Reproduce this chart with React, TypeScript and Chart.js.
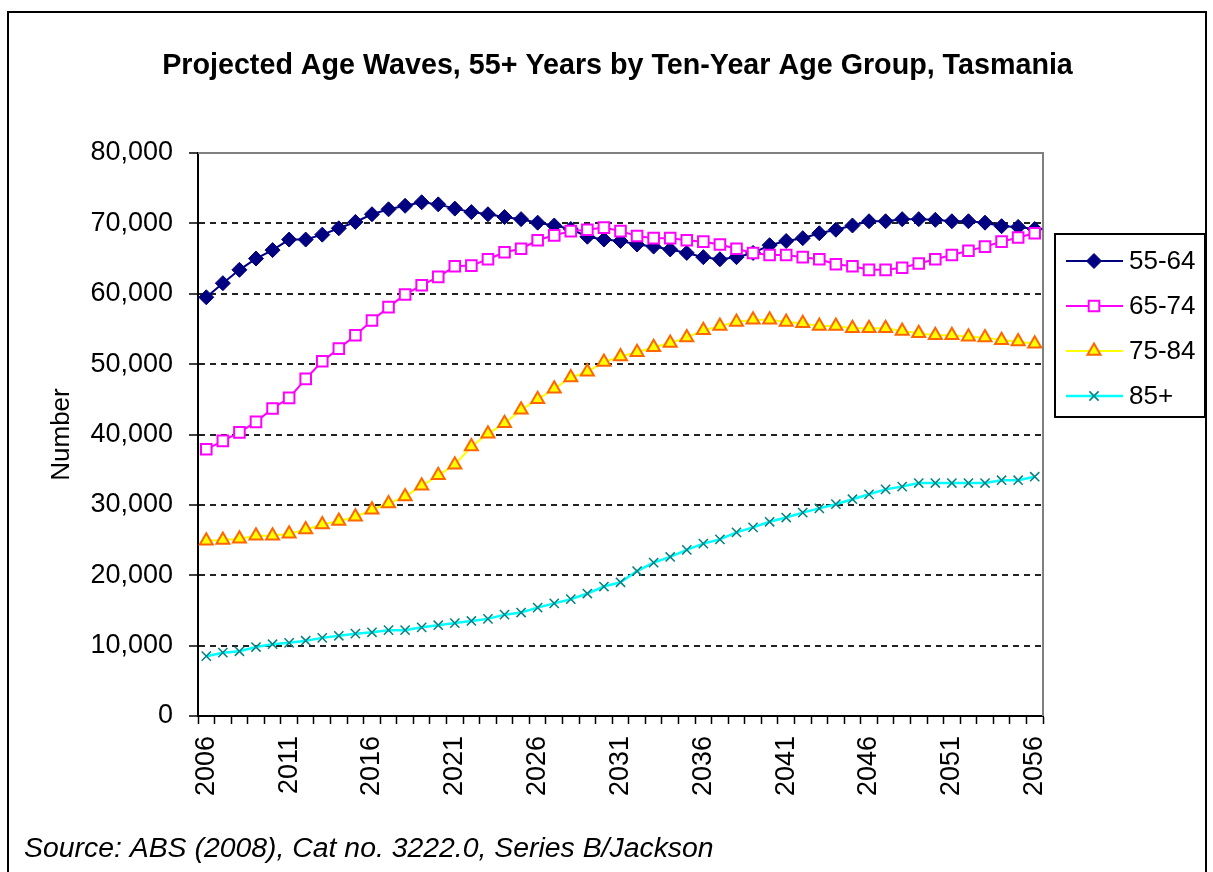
import React, { useEffect, useRef } from 'react';
import { Chart, registerables } from 'chart.js';
import { drawPoint } from 'chart.js/helpers';

Chart.register(...registerables);

const FONT = '"Liberation Sans", Arial, sans-serif';

const titleText = 'Projected Age Waves, 55+ Years by Ten-Year Age Group, Tasmania';
const yAxisTitle = 'Number';
const sourceText = 'Source: ABS (2008), Cat no. 3222.0, Series B/Jackson';

const years = [
  '2006', '2007', '2008', '2009', '2010', '2011', '2012', '2013', '2014', '2015',
  '2016', '2017', '2018', '2019', '2020', '2021', '2022', '2023', '2024', '2025',
  '2026', '2027', '2028', '2029', '2030', '2031', '2032', '2033', '2034', '2035',
  '2036', '2037', '2038', '2039', '2040', '2041', '2042', '2043', '2044', '2045',
  '2046', '2047', '2048', '2049', '2050', '2051', '2052', '2053', '2054', '2055',
  '2056',
];

const seriesNames = ['55-64', '65-74', '75-84', '85+'];

const age55to64 = [
  59500, 61500, 63400, 65000, 66200, 67700, 67700, 68400, 69300, 70200,
  71300, 72000, 72500, 73000, 72700, 72100, 71600, 71300, 70900, 70600,
  70100, 69700, 69200, 68100, 67700, 67500, 67000, 66700, 66300, 65800,
  65200, 64900, 65200, 65800, 66900, 67500, 67900, 68600, 69100, 69700,
  70300, 70300, 70600, 70600, 70500, 70300, 70300, 70100, 69600, 69500,
  69200,
];

const age65to74 = [
  37900, 39100, 40300, 41800, 43700, 45200, 47900, 50400, 52200, 54100,
  56200, 58100, 59900, 61200, 62400, 63900, 64000, 64900, 65900, 66400,
  67600, 68300, 68900, 69100, 69400, 68900, 68200, 67900, 67900, 67600,
  67400, 67000, 66400, 65800, 65500, 65500, 65200, 64900, 64200, 63900,
  63400, 63400, 63700, 64300, 64900, 65500, 66100, 66700, 67400, 68000,
  68600,
];

const age75to84 = [
  24900, 25000, 25200, 25600, 25600, 25900, 26500, 27200, 27700, 28300,
  29300, 30200, 31200, 32700, 34200, 35700, 38300, 40100, 41600, 43500,
  45000, 46500, 48100, 48900, 50300, 51100, 51700, 52400, 53000, 53800,
  54800, 55400, 56000, 56300, 56300, 56000, 55800, 55400, 55400, 55100,
  55100, 55100, 54700, 54400, 54100, 54100, 53900, 53800, 53400, 53200,
  52900,
];

const age85plus = [
  8500, 9000, 9200, 9800, 10200, 10400, 10700, 11100, 11400, 11700,
  11900, 12200, 12200, 12600, 12900, 13200, 13500, 13800, 14400, 14700,
  15400, 16000, 16600, 17400, 18400, 19000, 20600, 21800, 22600, 23600,
  24500, 25100, 26100, 26800, 27600, 28200, 28900, 29500, 30100, 30800,
  31500, 32200, 32600, 33100, 33100, 33100, 33100, 33100, 33500, 33500,
  34000,
];

const W = 1213;
const H = 872;

const seriesStyles = [
  { line: '#000080', fill: '#000080', stroke: '#000080', style: 'rectRot', radius: 7.5, bw: 1, lw: 2 },
  { line: '#FF00FF', fill: '#FFFFFF', stroke: '#FF00FF', style: 'rect', radius: 7.5, bw: 2, lw: 2 },
  { line: '#FFFF00', fill: '#FFFF00', stroke: '#FF6600', style: 'triangle', radius: 7.5, bw: 2, lw: 2 },
  { line: '#00FFFF', fill: '#008080', stroke: '#008080', style: 'crossRot', radius: 6.5, bw: 1.5, lw: 2.5 },
];

const decorPlugin = {
  id: 'decor',
  beforeDraw(chart: any) {
    const ctx = chart.ctx;
    ctx.save();
    ctx.fillStyle = '#FFFFFF';
    ctx.fillRect(0, 0, W, H);
    ctx.strokeStyle = '#000';
    ctx.lineWidth = 2;
    ctx.strokeRect(8, 12, 1198, 900);
    ctx.restore();
  },
  beforeDatasetsDraw(chart: any) {
    const ctx = chart.ctx;
    const a = chart.chartArea;
    ctx.save();
    ctx.strokeStyle = '#808080';
    ctx.lineWidth = 2;
    ctx.beginPath();
    ctx.moveTo(a.left, a.top);
    ctx.lineTo(a.right, a.top);
    ctx.lineTo(a.right, a.bottom);
    ctx.stroke();
    ctx.restore();
  },
  afterDraw(chart: any) {
    const ctx = chart.ctx;
    const a = chart.chartArea;
    ctx.save();
    // title
    ctx.fillStyle = '#000';
    ctx.font = `bold 28.7px ${FONT}`;
    ctx.textAlign = 'center';
    ctx.textBaseline = 'alphabetic';
    ctx.fillText(titleText, 617.5, 74);
    // y axis title
    ctx.save();
    ctx.translate(62, (a.top + a.bottom) / 2);
    ctx.rotate(-Math.PI / 2);
    ctx.font = `26px ${FONT}`;
    ctx.textAlign = 'center';
    ctx.textBaseline = 'middle';
    ctx.fillText(yAxisTitle, 0, 0);
    ctx.restore();
    // source
    ctx.font = `italic 28.4px ${FONT}`;
    ctx.textAlign = 'left';
    ctx.textBaseline = 'alphabetic';
    ctx.fillText(sourceText, 24, 857);
    // legend
    ctx.strokeStyle = '#000';
    ctx.lineWidth = 2;
    ctx.strokeRect(1055, 234, 150, 183);
    seriesNames.forEach((name, i) => {
      const s = seriesStyles[i];
      const y = 261 + i * 45;
      ctx.strokeStyle = s.line;
      ctx.lineWidth = s.lw;
      ctx.beginPath();
      ctx.moveTo(1066, y);
      ctx.lineTo(1123, y);
      ctx.stroke();
      ctx.fillStyle = s.fill;
      ctx.strokeStyle = s.stroke;
      ctx.lineWidth = s.bw;
      drawPoint(ctx, { pointStyle: s.style, rotation: 0, radius: s.radius, borderWidth: s.bw }, 1094, y);
      ctx.fillStyle = '#000';
      ctx.font = `26px ${FONT}`;
      ctx.textAlign = 'left';
      ctx.textBaseline = 'middle';
      ctx.fillText(name, 1129, y + 1);
    });
    ctx.restore();
  },
};

export default function App() {
  const ref = useRef<HTMLCanvasElement | null>(null);
  useEffect(() => {
    if (!ref.current) return;
    const seriesData = [age55to64, age65to74, age75to84, age85plus];
    const chart = new Chart(ref.current, {
      type: 'line',
      data: {
        labels: years,
        datasets: seriesData.map((d, i) => {
          const s = seriesStyles[i];
          return {
            label: seriesNames[i],
            data: d,
            borderColor: s.line,
            borderWidth: s.lw,
            backgroundColor: s.fill,
            pointStyle: s.style,
            pointRadius: s.radius,
            pointBackgroundColor: s.fill,
            pointBorderColor: s.stroke,
            pointBorderWidth: s.bw,
            tension: 0,
            fill: false,
            order: 4 - i,
          };
        }),
      },
      options: {
        responsive: false,
        animation: false,
        devicePixelRatio: 1,
        layout: { padding: { left: 8, top: 153, right: 170, bottom: 36 } },
        plugins: {
          legend: { display: false },
          title: { display: false },
          tooltip: { enabled: false },
        },
        scales: {
          x: {
            type: 'category',
            offset: true,
            grid: {
              offset: true,
              drawOnChartArea: false,
              drawTicks: true,
              tickLength: 8,
              tickColor: '#000',
              tickWidth: 1.5,
            },
            border: { display: true, color: '#000', width: 2 },
            ticks: {
              autoSkip: false,
              maxRotation: 90,
              minRotation: 90,
              padding: 12,
              color: '#000',
              font: { family: FONT, size: 27 },
              callback: (_v: any, idx: number) => (idx % 5 === 0 ? years[idx] : ''),
            },
            afterFit: (s: any) => {
              s.height = 120;
            },
          },
          y: {
            min: 0,
            max: 80000,
            grid: {
              color: (c: any) =>
                c.tick && (c.tick.value === 0 || c.tick.value === 80000) ? 'rgba(0,0,0,0)' : '#222',
              lineWidth: 2,
              tickColor: '#000',
              tickLength: 9,
              tickWidth: 1.5,
            },
            border: { display: true, color: '#000', width: 2, dash: [6, 5] },
            ticks: {
              stepSize: 10000,
              padding: 16,
              color: '#000',
              font: { family: FONT, size: 27 },
              callback: (v: any) => Number(v).toLocaleString('en-US'),
            },
            afterFit: (s: any) => {
              s.width = 190;
            },
          },
        },
      },
      plugins: [decorPlugin],
    } as any);
    return () => chart.destroy();
  }, []);
  return (
    <div style={{ position: 'fixed', left: 0, top: 0, width: W, height: H, background: '#fff' }}>
      <canvas ref={ref} width={W} height={H} style={{ width: W, height: H, display: 'block' }} />
    </div>
  );
}
